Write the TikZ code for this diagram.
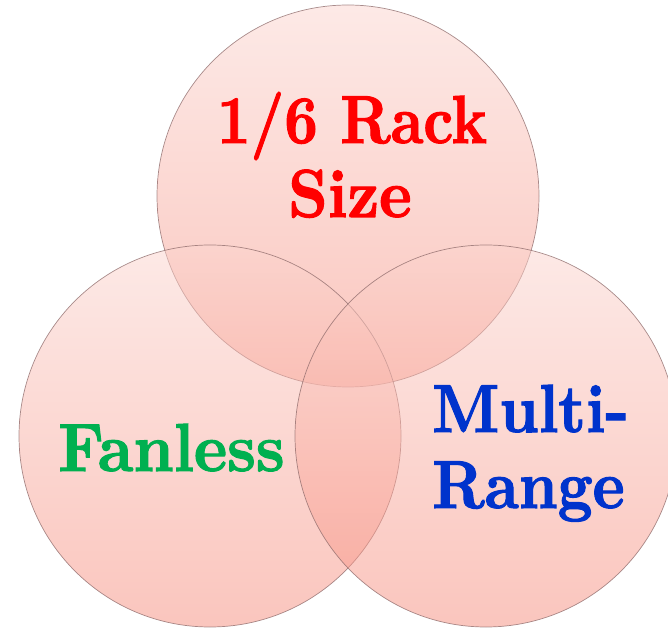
\documentclass[tikz,border=0pt]{standalone}
\usepackage{fontspec}
\newfontfamily\lmbb{lmroman10-bold.otf}[FakeBold=1.6]
\definecolor{ctop}{RGB}{251,212,206}
\definecolor{cbot}{RGB}{246,140,124}
\definecolor{cedge}{RGB}{140,105,105}
\definecolor{tred}{RGB}{255,0,0}
\definecolor{tgreen}{RGB}{0,176,80}
\definecolor{tblue}{RGB}{0,51,204}
\tikzset{
  venn/.style={circle, minimum size=382pt, inner sep=0pt, draw=cedge, line width=0.7pt,
    top color=ctop, bottom color=cbot, fill opacity=0.5, draw opacity=0.75},
  lbl/.style={font=\lmbb\fontsize{68}{80}\selectfont, inner sep=0pt}
}
\begin{document}
\begin{tikzpicture}[x=1pt,y=1pt]
\useasboundingbox (0,0) rectangle (668,629);
\begin{scope}
\clip (0,0) rectangle (668,629);
\node[venn] (ctopc) at (348,433) {};
\node[venn] (cleft) at (210,193) {};
\node[venn] (cright) at (486,193) {};
\end{scope}
\node[lbl, text=tred, anchor=base] (t1) at (352,486) {\scalebox{0.86}[1]{1/6 Rack}};
\node[lbl, text=tred, anchor=base] (t2) at (350,412) {\scalebox{0.91}[1]{Size}};
\node[lbl, text=tgreen, anchor=base west] (fan) at (58,158) {\scalebox{0.93}[1]{Fanless}};
\node[lbl, text=tblue, anchor=base west] (m1) at (432,197) {\scalebox{0.905}[1]{Multi-}};
\node[lbl, text=tblue, anchor=base west] (m2) at (432,121) {\scalebox{0.895}[1]{Range}};
\end{tikzpicture}
\end{document}
